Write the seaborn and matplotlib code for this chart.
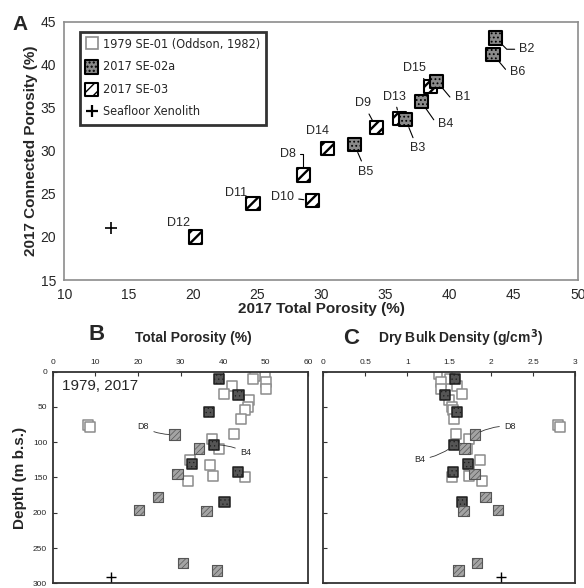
import numpy as np
import pandas as pd
import matplotlib
matplotlib.use("Agg")
import matplotlib.pyplot as plt
from matplotlib.lines import Line2D
from matplotlib import font_manager
from matplotlib.font_manager import FontProperties
import seaborn as sns

# ---------------- data ----------------
# 2017 SE-02a core (B samples)
b_names = ["B1", "B2", "B3", "B4", "B5", "B6", "B7"]
b_depth = [10, 33, 57, 104, 131, 142, 185]
b_total = [39.0, 43.6, 36.6, 37.8, 32.6, 43.4, 40.3]
b_connected = [38.1, 43.1, 33.6, 35.7, 30.7, 41.2, np.nan]
b_density = [1.57, 1.45, 1.59, 1.56, 1.72, 1.54, 1.65]

# 2017 SE-03 core (D samples)
d_names = ["D8", "D9", "D10", "D11", "D12", "D13", "D14", "D15"]
d_depth = [89, 109, 145, 178, 196, 198, 271, 282]
d_total = [28.6, 34.3, 29.3, 24.7, 20.2, 36.1, 30.5, 38.5]
d_connected = [27.2, 32.7, 24.2, 23.9, 20.0, 33.8, 30.3, 37.5]
d_density = [1.81, 1.68, 1.80, 1.93, 2.08, 1.67, 1.83, 1.61]

# 1979 SE-01 core (Oddson, 1982)
o_depth = [3, 6, 10, 14, 21, 24, 32, 40, 50, 55, 67, 75, 78, 88, 96,
           110, 125, 133, 148, 150, 155]
o_total = [49.9, 47.5, 46.9, 50.0, 42.1, 50.0, 40.3, 46.1, 45.7, 45.2, 44.2,
           8.3, 8.7, 42.6, 37.3, 39.1, 32.2, 36.8, 37.5, 45.2, 31.7]
o_density = [1.38, 1.47, 1.51, 1.40, 1.59, 1.40, 1.65, 1.50, 1.53, 1.54, 1.55,
             2.80, 2.82, 1.58, 1.73, 1.71, 1.87, 1.74, 1.74, 1.53, 1.89]

# Seafloor xenolith
x_total = [13.6]
x_connected = [21.0]
x_depth = [291]
x_density = [2.12]

dfB = pd.DataFrame({"name": b_names, "depth": b_depth, "total": b_total,
                    "connected": b_connected, "density": b_density})
dfD = pd.DataFrame({"name": d_names, "depth": d_depth, "total": d_total,
                    "connected": d_connected, "density": d_density})
dfO = pd.DataFrame({"depth": o_depth, "total": o_total, "density": o_density})
dfX = pd.DataFrame({"depth": x_depth, "total": x_total,
                    "connected": x_connected, "density": x_density})

# ---------------- style ----------------
sns.set_theme(style="white")
plt.rcParams["font.family"] = ["Liberation Sans", "DejaVu Sans"]
plt.rcParams["hatch.linewidth"] = 1.0

# narrow face for the legend, if one is installed
fonts = font_manager.fontManager.ttflist
names = {f.name for f in fonts}
if "Liberation Sans Narrow" in names:
    legend_prop = FontProperties(family="Liberation Sans Narrow", size=10.5)
elif any(f.name == "DejaVu Sans" and "condensed" in str(f.stretch) for f in fonts):
    legend_prop = FontProperties(family="DejaVu Sans", stretch="condensed", size=9.1)
else:
    legend_prop = FontProperties(family="Liberation Sans", size=8.8)

GRAY_EDGE = "#8c8c8c"


def set_hatch(coll, hatch, hlw):
    coll.set_hatch(hatch)
    if hasattr(coll, "set_hatch_linewidth"):
        coll.set_hatch_linewidth(hlw)


fig = plt.figure(figsize=(5.84, 5.88), dpi=100)

# ---------------- panel A ----------------
axA = fig.add_axes([0.1104, 0.5238, 0.8788, 0.4393])

sns.scatterplot(data=dfX, x="total", y="connected", ax=axA, marker="+",
                s=70, color="black", linewidth=1.2, legend=False, zorder=3)
hX = Line2D([], [], marker="+", ls="none", ms=9, color="black", mew=1.6)

sns.scatterplot(data=dfD, x="total", y="connected", ax=axA, marker="s",
                s=90, color="white", edgecolor="black", linewidth=1.5,
                legend=False, zorder=3)
hD = axA.collections[-1]
set_hatch(hD, "///", 1.7)

sns.scatterplot(data=dfB.dropna(), x="total", y="connected", ax=axA, marker="s",
                s=90, color="#8a8a8a", edgecolor="black", linewidth=1.5,
                legend=False, zorder=4)
hB = axA.collections[-1]
set_hatch(hB, "....", 0.8)

h1979 = Line2D([], [], marker="s", ls="none", ms=9, mfc="white",
               mec=GRAY_EDGE, mew=1.2)

axA.set_xlim(10, 50)
axA.set_ylim(15, 45)
axA.set_xticks(range(10, 51, 5))
axA.set_yticks(range(15, 46, 5))
axA.tick_params(direction="in", length=4, width=1, color=GRAY_EDGE,
                labelsize=10, pad=6)
for sp in axA.spines.values():
    sp.set_color(GRAY_EDGE)
    sp.set_linewidth(1.2)
axA.set_xlabel("2017 Total Porosity (%)", fontsize=11, fontweight="bold", labelpad=0)
axA.set_ylabel("2017 Connected Porosity (%)", fontsize=11, fontweight="bold", labelpad=2)

leg = axA.legend([h1979, hB, hD, hX],
                 ["1979 SE-01 (Oddson, 1982)", "2017 SE-02a", "2017 SE-03",
                  "Seafloor Xenolith"],
                 loc="upper left", bbox_to_anchor=(0.03, 0.962), borderaxespad=0,
                 frameon=True, fancybox=False, edgecolor="black",
                 prop=legend_prop, handlelength=0.9,
                 handletextpad=0.4, labelspacing=0.75, borderpad=0.5,
                 scatterpoints=1, markerscale=1.0)
leg.get_frame().set_linewidth(2)

# sample labels with leader lines: name -> (label x, label y, connection)
labelsA = {
    "B1": (41.0, 36.2, "angle,angleA=0,angleB=-50,rad=0"),
    "B2": (46.05, 41.8, "angle,angleA=0,angleB=-45,rad=0"),
    "B3": (37.5, 30.3, "arc3"),
    "B4": (39.7, 33.1, "angle,angleA=0,angleB=-55,rad=0"),
    "B5": (33.5, 27.6, "arc3"),
    "B6": (45.3, 39.2, "angle,angleA=0,angleB=-50,rad=0"),
    "D8": (27.4, 29.6, "angle,angleA=0,angleB=90,rad=0"),
    "D9": (33.3, 35.5, "arc3"),
    "D10": (27.0, 24.65, "arc3"),
    "D11": (23.4, 25.05, None),
    "D12": (18.9, 21.6, None),
    "D13": (35.7, 36.3, "arc3"),
    "D14": (29.7, 32.3, "arc3"),
    "D15": (37.3, 39.6, "arc3"),
}
pts = pd.concat([dfB.dropna(), dfD])
for _, row in pts.iterrows():
    lx, ly, conn = labelsA[row["name"]]
    if conn is None:
        axA.text(lx, ly, row["name"], fontsize=9, ha="center", va="center")
    else:
        axA.annotate(row["name"], xy=(row["total"], row["connected"]),
                     xytext=(lx, ly), fontsize=9, ha="center", va="center",
                     arrowprops=dict(arrowstyle="-", lw=0.8, color="black",
                                     shrinkA=1, shrinkB=6,
                                     connectionstyle=conn), zorder=2)

fig.text(0.034, 0.958, "A", fontsize=15, fontweight="bold", ha="center", va="center")


# ---------------- panels B and C ----------------
def depth_panel(ax, col):
    sns.scatterplot(data=dfO, x=col, y="depth", ax=ax, marker="s", s=55,
                    color="white", edgecolor=GRAY_EDGE, linewidth=1.1,
                    legend=False, zorder=2)
    sns.scatterplot(data=dfB, x=col, y="depth", ax=ax, marker="s", s=55,
                    color="#555555", edgecolor="#1e1e1e", linewidth=1.1,
                    legend=False, zorder=3)
    set_hatch(ax.collections[-1], "....", 0.4)
    sns.scatterplot(data=dfD, x=col, y="depth", ax=ax, marker="s", s=55,
                    color="#a4a4a4", edgecolor="#555555", linewidth=0.8,
                    legend=False, zorder=3)
    set_hatch(ax.collections[-1], "//////", 0.5)
    sns.scatterplot(data=dfX, x=col, y="depth", ax=ax, marker="+", s=55,
                    color="black", linewidth=1.0, legend=False, zorder=3)
    ax.set_ylim(300, 0)
    ax.xaxis.tick_top()
    ax.tick_params(direction="in", length=3, width=0.8, labelsize=6, pad=4,
                   color="#333333")
    ax.tick_params(axis="x", top=True, bottom=False)
    ax.tick_params(axis="y", left=True, right=False)
    for sp in ax.spines.values():
        sp.set_color("#333333")
        sp.set_linewidth(1.3)
    ax.set_xlabel("")
    ax.set_ylabel("")


axB = fig.add_axes([0.0902, 0.0080, 0.4380, 0.3599])
depth_panel(axB, "total")
axB.set_xlim(0, 60)
axB.set_xticks(range(0, 61, 10))
axB.set_yticks(range(0, 301, 50))
axB.set_ylabel("Depth (m b.s.)", fontsize=11, fontweight="bold", labelpad=4)
axB.text(2.1, 20, "1979, 2017", fontsize=11, ha="left", va="center")

axC = fig.add_axes([0.5536, 0.0080, 0.4315, 0.3599])
depth_panel(axC, "density")
axC.set_xlim(0, 3)
axC.set_xticks([0, 0.5, 1, 1.5, 2, 2.5, 3])
axC.set_xticklabels(["0", "0.5", "1", "1.5", "2", "2.5", "3"])
axC.set_yticks(range(0, 301, 50))
axC.set_yticklabels([])

labelsBC = {
    (axB, "total"): {"D8": (21.3, 78.3), "B4": (45.2, 115)},
    (axC, "density"): {"D8": (2.22, 77.5), "B4": (1.15, 124)},
}
for (ax, col), labs in labelsBC.items():
    for nm, (lx, ly) in labs.items():
        src = dfB if nm.startswith("B") else dfD
        row = src[src["name"] == nm].iloc[0]
        ax.annotate(nm, xy=(row[col], row["depth"]), xytext=(lx, ly),
                    fontsize=6.5, ha="center", va="center",
                    arrowprops=dict(arrowstyle="-", lw=0.6, color="#333333",
                                    shrinkA=1, shrinkB=4,
                                    connectionstyle="arc3,rad=0.15"),
                    zorder=4)

fig.text(97 / 584, 1 - 335 / 588, "B", fontsize=16, fontweight="bold",
         ha="center", va="center")
fig.text(193 / 584, 1 - 338 / 588, "Total Porosity (%)", fontsize=10,
         fontweight="bold", ha="center", va="center")
fig.text(351 / 584, 1 - 338 / 588, "C", fontsize=16, fontweight="bold",
         ha="center", va="center")
fig.text(461 / 584, 1 - 338 / 588, "Dry Bulk Density (g/cm$^\\mathbf{3}$)",
         fontsize=10, fontweight="bold", ha="center", va="center")

fig.savefig("out.png", dpi=100)
